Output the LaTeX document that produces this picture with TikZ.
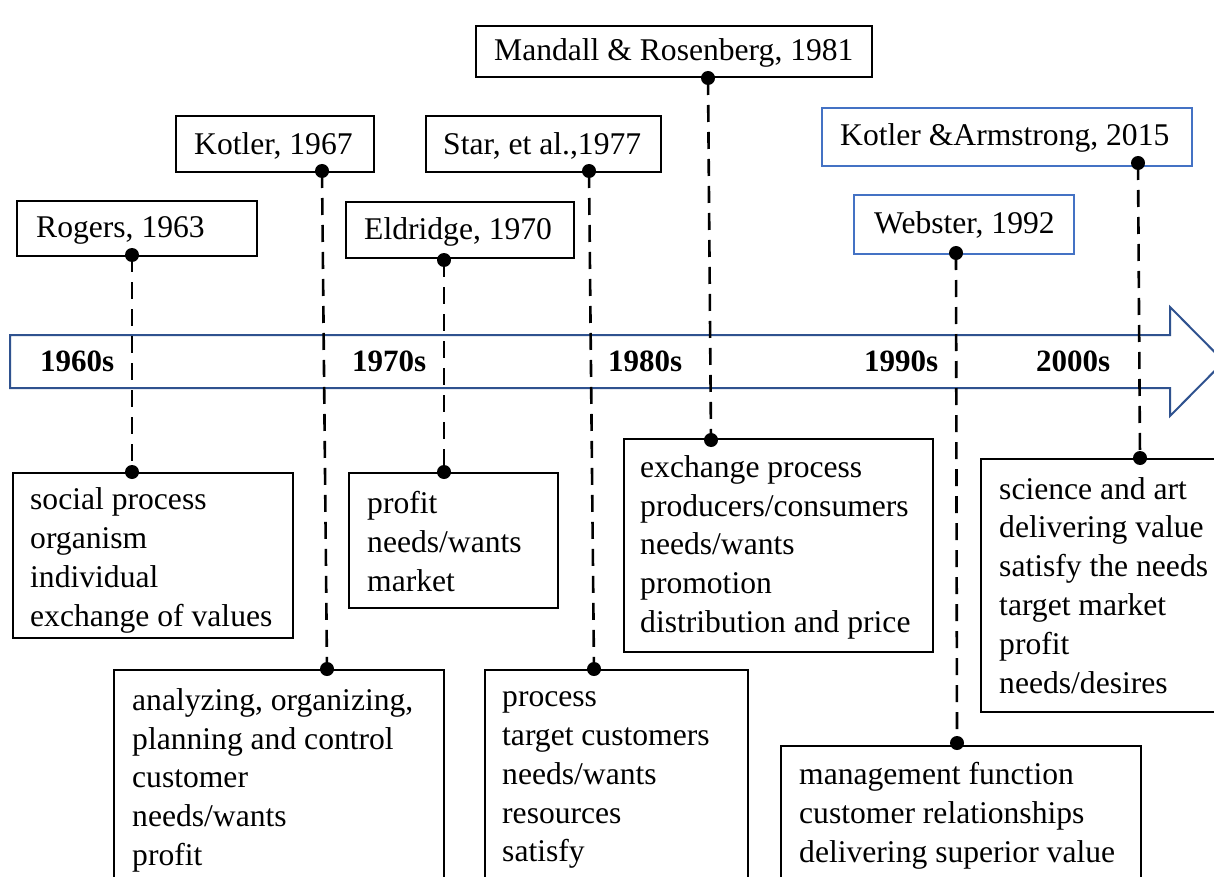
\documentclass[tikz,border=0pt]{standalone}
\usepackage{fontspec}
\setmainfont{Liberation Serif}
\usetikzlibrary{calc}
\definecolor{arrowblue}{RGB}{47,82,143}
\definecolor{boxblue}{RGB}{68,114,196}
\begin{document}
\begin{tikzpicture}[x=1pt,y=-1pt,
  txt/.style={font=\fontsize{31.6}{38.8}\selectfont,anchor=west,align=left,inner sep=0pt},
  refbox/.style={draw=black,line width=1.6pt,fill=white,anchor=north west,inner sep=0pt},
  bluebox/.style={refbox,draw=boxblue},
  link/.style={draw=black,line width=2.6pt,dash pattern=on 17pt off 10pt},
  dot/.style={circle,fill=black,inner sep=0pt,minimum size=14pt},
  year/.style={font=\fontsize{31}{36}\selectfont\bfseries,anchor=west,inner sep=0pt}]
\useasboundingbox (0,0) rectangle (1214,877);
\clip (0,0) rectangle (1214,877);
% timeline arrow
\draw[arrowblue,line width=2pt,fill=white,line join=miter]
  (10,335) -- (1170,335) -- (1170,307) -- (1224,361.5) -- (1170,416) -- (1170,388) -- (10,388) -- cycle;
\node[year] (y60) at (40,361) {1960s};
\node[year] (y70) at (352,361) {1970s};
\node[year] (y80) at (608,361) {1980s};
\node[year] (y90) at (864,361) {1990s};
\node[year] (y00) at (1036,361) {2000s};
% top boxes
\node[refbox,minimum width=240pt,minimum height=55pt] (rog) at (16,200) {};
\node[txt] (rogt) at ($(rog.west)+(20,2)$) {Rogers, 1963};
\node[refbox,minimum width=198pt,minimum height=56pt] (kot) at (175,115) {};
\node[txt] (kott) at ($(kot.west)+(19,2)$) {Kotler, 1967};
\node[refbox,minimum width=228pt,minimum height=56pt] (eld) at (345,201) {};
\node[txt] (eldt) at ($(eld.west)+(19,2)$) {Eldridge, 1970};
\node[refbox,minimum width=235pt,minimum height=56pt] (sta) at (425,115) {};
\node[txt] (stat) at ($(sta.west)+(18,2)$) {Star, et al.,1977};
\node[refbox,minimum width=396pt,minimum height=51pt] (man) at (475,25) {};
\node[txt] (mant) at ($(man.west)+(19,2)$) {Mandall \& Rosenberg, 1981};
\node[bluebox,minimum width=220pt,minimum height=59pt] (web) at (853,194) {};
\node[txt] (webt) at ($(web.west)+(21,1)$) {Webster, 1992};
\node[bluebox,minimum width=370pt,minimum height=58pt] (kar) at (821,107) {};
\node[txt] (kart) at ($(kar.west)+(19,1)$) {Kotler \&Armstrong, 2015};
% bottom boxes
\node[refbox,minimum width=280pt,minimum height=165pt] (b1) at (12,472) {};
\node[txt] (b1t) at ($(b1.west)+(18,5)$) {social process\\organism\\individual\\exchange of values};
\node[refbox,minimum width=209pt,minimum height=135pt] (b2) at (348,472) {};
\node[txt] (b2t) at ($(b2.west)+(19,1)$) {profit\\needs/wants\\market};
\node[refbox,minimum width=330pt,minimum height=217pt] (b3) at (113,669) {};
\node[txt] (b3t) at ($(b3.west)+(19,2)$) {analyzing, organizing,\\planning and control\\customer\\needs/wants\\profit};
\node[refbox,minimum width=263pt,minimum height=217pt] (b4) at (484,669) {};
\node[txt] (b4t) at ($(b4.west)+(18,2)$) {process\\target customers\\needs/wants\\resources\\satisfy};
\node[refbox,minimum width=309pt,minimum height=213pt] (b5) at (623,438) {};
\node[txt] (b5t) at ($(b5.west)+(17,2)$) {exchange process\\producers/consumers\\needs/wants\\promotion\\distribution and price};
\node[refbox,minimum width=260pt,minimum height=253pt] (b6) at (980,458) {};
\node[txt] (b6t) at ($(b6.west)+(19,0)$) {science and art\\delivering value\\satisfy the needs\\target market\\profit\\needs/desires};
\node[refbox,minimum width=360pt,minimum height=136pt] (b7) at (780,745) {};
\node[txt] (b7t) at ($(b7.west)+(19,2)$) {management function\\customer relationships\\delivering superior value};
% connection points
\coordinate (t1) at (132,255);
\coordinate (t2) at (322,171);
\coordinate (t3) at (444,260);
\coordinate (t4) at (589,171);
\coordinate (t5) at (708,78);
\coordinate (t6) at (956,253);
\coordinate (t7) at (1138,163);
\coordinate (d1) at (132,472);
\coordinate (d2) at (327,669);
\coordinate (d3) at (444,472);
\coordinate (d4) at (594,669);
\coordinate (d5) at (711,440);
\coordinate (d6) at (957,743);
\coordinate (d7) at (1140,458);
\foreach \i in {1,...,7}{
  \draw[link] (t\i) -- (d\i);
  \node[dot] at (t\i) {};
  \node[dot] at (d\i) {};
}
\end{tikzpicture}
\end{document}
